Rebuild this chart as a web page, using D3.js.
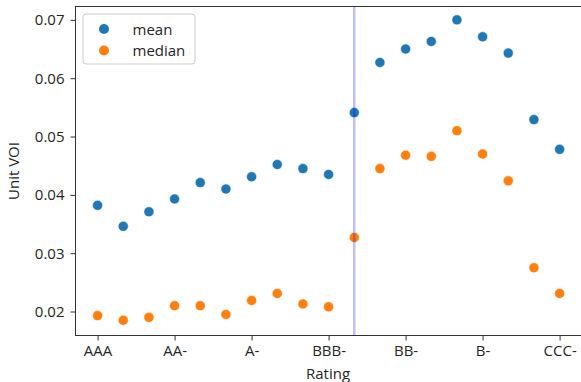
<!DOCTYPE html>
<html>
<head>
<meta charset="utf-8">
<script src="https://cdn.jsdelivr.net/npm/d3@7"></script>
<style>
  body { margin: 0; background: #fff; }
  svg { display: block; }
  text { font-family: "Open Sans", sans-serif; fill: #262626; }
</style>
</head>
<body>
<div class="graph"></div>
<script>
// ratings on the x axis (every 3rd one gets a label)
const ratings = ["AAA", "AA+", "AA", "AA-", "A+", "A", "A-", "BBB+", "BBB", "BBB-",
                 "BB+", "BB", "BB-", "B+", "B", "B-", "CCC+", "CCC", "CCC-"]
const meanVals = [0.0382, 0.0346, 0.0371, 0.0393, 0.0421, 0.0410, 0.0431, 0.0452, 0.0445, 0.0435,
                  0.0541, 0.0627, 0.0650, 0.0663, 0.0700, 0.0671, 0.0643, 0.0529, 0.0478]
const medianVals = [0.0193, 0.0185, 0.0190, 0.0210, 0.0210, 0.0195, 0.0219, 0.0231, 0.0213, 0.0208,
                    0.0327, 0.0445, 0.0468, 0.0466, 0.0510, 0.0470, 0.0424, 0.0275, 0.0231]
const yTicks = [0.02, 0.03, 0.04, 0.05, 0.06, 0.07]
const cutoff = "BB+"   // vertical marker line

const W = 581, H = 382
const svg = d3.select(".graph").append("svg").attr("width", W).attr("height", H)

const mLeft = 75.5, mRight = 584, mTop = 6.5, mBottom = 335.5

const x = d3.scaleLinear().domain([-0.86, 18.95]).range([mLeft, mRight])
const y = d3.scaleLinear().domain([0.01589, 0.07229]).range([mBottom, mTop])

// x axis
const xAxis = d3.axisBottom(x)
  .tickValues(d3.range(0, ratings.length, 3))
  .tickFormat(i => ratings[i])
  .tickSizeOuter(0).tickSize(5).tickPadding(5)
const gx = svg.append("g").attr("transform", "translate(0," + mBottom + ")").call(xAxis)

const yAxis = d3.axisLeft(y).tickValues(yTicks).tickFormat(d3.format(".2f"))
  .tickSizeOuter(0).tickSize(5).tickPadding(6)
const gy = svg.append("g").attr("transform", "translate(" + mLeft + ",0)").call(yAxis)

svg.selectAll(".tick text").style("font-size", "15px").attr("fill", "#262626")
svg.selectAll(".tick line").attr("stroke", "#333")
svg.selectAll(".domain").remove()

// spines
svg.append("rect").attr("x", mLeft).attr("y", mTop)
  .attr("width", mRight - mLeft).attr("height", mBottom - mTop)
  .attr("fill", "none").attr("stroke", "#333").attr("stroke-width", 1)

// points
svg.append("clipPath").attr("id", "c").append("rect")
  .attr("x", mLeft).attr("y", mTop).attr("width", mRight - mLeft).attr("height", mBottom - mTop)
const plot = svg.append("g").attr("clip-path", "url(#c)")

plot.selectAll(".mean").data(meanVals).enter().append("circle")
  .attr("cx", (d, i) => x(i)).attr("cy", d => y(d)).attr("r", 5)
  .attr("fill", "#1f77b4").attr("stroke", "#fff").attr("stroke-width", 0.5)

plot.selectAll(".median").data(medianVals).enter().append("circle")
  .attr("cx", (d, i) => x(i)).attr("cy", d => y(d)).attr("r", 5)
  .attr("fill", "#ff7f0e").attr("stroke", "#fff").attr("stroke-width", 0.5)

plot.append("line")
  .attr("x1", x(ratings.indexOf(cutoff))).attr("x2", x(ratings.indexOf(cutoff)))
  .attr("y1", mTop).attr("y2", mBottom)
  .attr("stroke", "blue").attr("stroke-opacity", 0.25).attr("stroke-width", 2.5)

// axis labels
svg.append("text").attr("x", 328).attr("y", 379)
  .attr("text-anchor", "middle").style("font-size", "15px").text("Rating")
svg.append("text").attr("transform", "translate(19," + (mTop + mBottom) / 2 + ") rotate(-90)")
  .attr("text-anchor", "middle").style("font-size", "15px").text("Unit VOI")

// legend
const lg = svg.append("g")
lg.append("rect").attr("x", 83).attr("y", 14).attr("width", 112).attr("height", 50)
  .attr("rx", 3).attr("fill", "#fff").attr("fill-opacity", 0.8).attr("stroke", "#ccc")
const items = [["mean", "#1f77b4"], ["median", "#ff7f0e"]]
items.forEach((it, i) => {
  lg.append("circle").attr("cx", 104).attr("cy", 29 + i * 21.5).attr("r", 5).attr("fill", it[1])
  lg.append("text").attr("x", 132.5).attr("y", 34.5 + i * 21).style("font-size", "15px").text(it[0])
})
</script>
</body>
</html>
